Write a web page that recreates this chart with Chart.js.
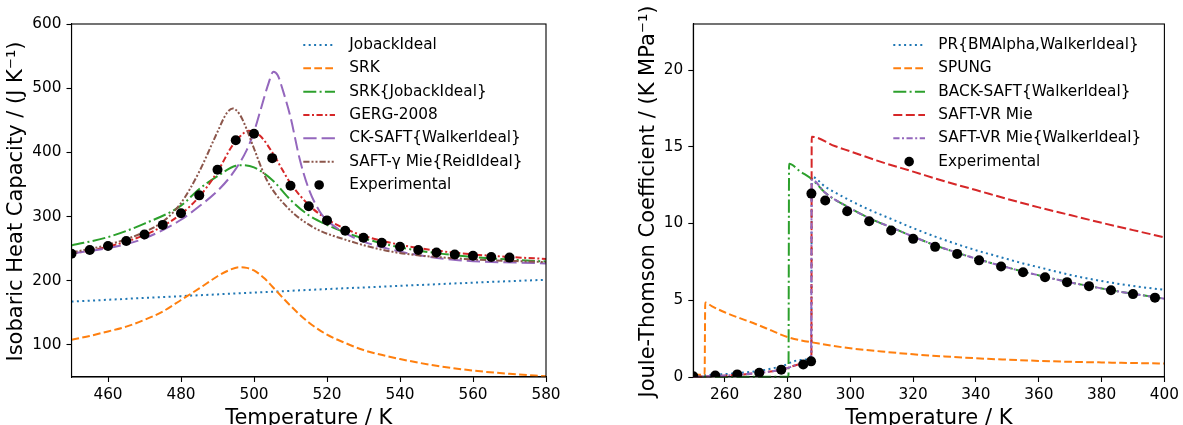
<!DOCTYPE html>
<html><head><meta charset="utf-8">
<script src="https://cdn.jsdelivr.net/npm/chart.js@4.4.0/dist/chart.umd.min.js"></script>
<style>
html,body{margin:0;padding:0;background:#fff;width:1183px;height:425px;overflow:hidden;}
#c1{position:absolute;left:0;top:0;width:600px;height:425px;}
#c2{position:absolute;left:600px;top:0;width:583px;height:425px;}
</style></head><body>
<canvas id="c1" width="600" height="425"></canvas>
<canvas id="c2" width="583" height="425"></canvas>
<script>
// ---------------- LEFT PANEL DATA (Isobaric heat capacity) ----------------
const cpXTicks = [460, 480, 500, 520, 540, 560, 580];
const cpYTicks = [100, 200, 300, 400, 500, 600];

const jobackT = [450, 480, 500, 520, 540, 560, 580];
const jobackV = [167.5, 176, 181.5, 187, 192, 197, 201.5];

const srkT = [450,455,460,465,470,475,480,485,490,493,496,498,500,503,505,510,515,520,525,530,540,550,560,570,580];
const srkV = [108,114,121,128.5,139,152,170,188,207,216,221,220,216,203,191,161,135,116,103,92,78,67.5,60,55,51];

const srkJobackT = [450,460,470,480,485,490,495,497,500,505,510,515,520,525,530,540,550,560,570,580];
const srkJobackV = [255,268,289,317,343,363,379,380,376.5,357,326,302,287,275,266,252,243,237,233,230];

const gergT = [450,455,460,465,470,475,480,485,490,494,496,498.5,500,502,505,510,515,520,525,530,540,550,560,570,580];
const gergV = [242,247,253,261,271,285,304,331,370,410,424,433.5,432,424,400,352,318,296,281,270,256,247,241,237,234];

const ckT = [450,460,465,470,475,480,485,490,494,498,500,502,504,505.3,506.5,508,510,512.5,515,518,520,525,530,538,545,556,580];
const ckV = [242.4,251,257,266,279,295,316,340,366,403.5,432,470,508,525.6,520,495,455,390,343,308,294,274,261,248,240,232,227];

const saftGammaT = [450,460,470,475,480,485,490,492.5,494.2,496.2,498,500,503.5,509,516,525,538,556,580];
const saftGammaV = [244,256,276,292,321,370,432,461,468.5,458,436,406,357,315,284,264,245,234.6,229];

const cpExpT = [450,455,460,465,470,475,480,485,490,495,500,505,510,515,520,525,530,535,540,545,550,555,560,565,570];
const cpExpV = [242,248,254,262,272,287,305,333,373,419,429,391,348,316,294,278,267,259,253,248,244,241,239,237,236];

// ---------------- RIGHT PANEL DATA (Joule-Thomson coefficient) ----------------
const jtXTicks = [260, 280, 300, 320, 340, 360, 380, 400];
const jtYTicks = [0, 5, 10, 15, 20];

const prT = [250,257,264,271,278,284,287.6,287.7,292,299,306,313,320,327,334,341,348,355,362,369,376,383,390,400];
const prV = [0.05,0.15,0.25,0.4,0.7,1.1,1.4,13.05,12.4,11.6,10.9,10.3,9.7,9.15,8.65,8.2,7.8,7.4,7.05,6.7,6.4,6.15,5.93,5.68];

const spungT = [250,253.6,253.8,256,260,265,270,275,280,290,300,310,320,330,340,350,360,370,380,390,400];
const spungV = [0.15,0.15,4.85,4.6,4.22,3.82,3.44,3.02,2.6,2.18,1.87,1.66,1.48,1.34,1.22,1.13,1.05,0.99,0.95,0.91,0.88];

const backT = [250,260,270,280.3,280.5,284,288,292,299,306,313,320,327,334,341,348,355,362,369,376,383,390,397,400];
const backV = [0.02,0.02,0.02,0.02,13.9,13.4,12.85,12.0,11.1,10.35,9.75,9.15,8.58,8.1,7.65,7.25,6.87,6.53,6.2,5.93,5.66,5.42,5.2,5.1];

const vrMieT = [250,257,264,271,278,285,287.6,287.7,295,300,310,320,330,340,350,360,370,380,390,400];
const vrMieV = [0.02,0.06,0.14,0.27,0.47,0.85,1.15,15.65,15.05,14.7,14.0,13.38,12.75,12.18,11.6,11.05,10.55,10.05,9.57,9.1];

const vrMieWT = [250,257,264,271,278,285,287.5,287.7,292,299,306,313,320,327,334,341,348,355,362,369,376,383,390,397,400];
const vrMieWV = [0.02,0.06,0.14,0.27,0.47,0.85,1.2,12.85,12.0,11.1,10.35,9.75,9.15,8.58,8.1,7.65,7.25,6.87,6.53,6.2,5.93,5.66,5.42,5.2,5.1];

const jtExpT = [250,257,264,271,278,285,287.5,287.6,292,299,306,313,320,327,334,341,348,355,362,369,376,383,390,397];
const jtExpV = [0.05,0.1,0.17,0.28,0.48,0.81,1.02,11.95,11.5,10.8,10.15,9.55,9.0,8.48,8.02,7.6,7.2,6.83,6.5,6.18,5.92,5.65,5.4,5.17];

// ---------------- STYLE ----------------
const FONT = "'DejaVu Sans', sans-serif";
const COL = {blue:'#1f77b4', orange:'#ff7f0e', green:'#2ca02c', red:'#d62728', purple:'#9467bd', brown:'#8c564b'};
const DASH = {
  dotted:[2,3.4], dashed:[7.7,3.3], dashdot:[13,3.3,2,3.3], longdash:[13.3,5],
  mdash:[9,3.5], dashdotS:[6.2,2.5,2,2.5], dashdotdot:[6.2,2,2,2,2,2]
};
const TICK_SIZE = 15.3, TITLE_SIZE = 21;

function curve(label, T, V, color, dash) {
  return {label, data: T.map((t,i)=>({x:t, y:V[i]})), borderColor:color, backgroundColor:color,
    borderWidth:2, borderDash:dash, pointRadius:0, pointHoverRadius:0, showLine:true, fill:false,
    cubicInterpolationMode:'monotone', borderCapStyle:'butt', clip:1, _kind:'line'};
}
function marks(label, T, V) {
  return {label, data: T.map((t,i)=>({x:t, y:V[i]})), showLine:false, pointRadius:5, pointHoverRadius:5,
    pointBackgroundColor:'#000', pointBorderColor:'#000', pointBorderWidth:0, borderColor:'#000', backgroundColor:'#000',
    clip:0, _kind:'marker'};
}
function ordered(list){ list.forEach((d,i)=>{ d.order = list.length - i; }); return list; }

function deco(cfg) {
  return {
    id:'deco',
    afterDraw(chart) {
      const ctx = chart.ctx, a = chart.chartArea;
      ctx.save();
      ctx.strokeStyle = '#000'; ctx.lineWidth = 1.1; ctx.setLineDash([]);
      ctx.strokeRect(a.left, a.top, a.right - a.left, a.bottom - a.top);
      ctx.fillStyle = '#000';
      // x title
      ctx.font = TITLE_SIZE + 'px ' + FONT;
      ctx.textAlign = 'center'; ctx.textBaseline = 'alphabetic';
      ctx.fillText(cfg.xTitle, (a.left + a.right) / 2, 423.6);
      // y title
      ctx.save();
      ctx.translate(cfg.yTitleX, (a.top + a.bottom) / 2 + 1);
      ctx.rotate(-Math.PI / 2);
      ctx.textBaseline = 'middle';
      ctx.fillText(cfg.yTitle, 0, 0);
      ctx.restore();
      // legend
      ctx.font = TICK_SIZE + 'px ' + FONT;
      ctx.textAlign = 'left'; ctx.textBaseline = 'middle';
      chart.data.datasets.forEach((d, i) => {
        const y = cfg.legY + i * cfg.legStep;
        if (d._kind === 'line') {
          ctx.save();
          ctx.strokeStyle = d.borderColor; ctx.lineWidth = 2; ctx.setLineDash(d.borderDash || []);
          ctx.beginPath(); ctx.moveTo(cfg.legX0, y); ctx.lineTo(cfg.legX1, y); ctx.stroke();
          ctx.restore();
        } else {
          ctx.beginPath(); ctx.arc((cfg.legX0 + cfg.legX1) / 2, y, 4.8, 0, Math.PI * 2); ctx.fill();
        }
        ctx.fillStyle = '#000';
        ctx.fillText(d.label, cfg.legText, y);
      });
      ctx.restore();
    }
  };
}

function opts(xr, yr, xt, yt, yWidth, padRight) {
  const grid = {drawOnChartArea:false, drawTicks:true, tickLength:5, color:'#000', tickColor:'#000', tickWidth:1.1};
  const ticks = {color:'#000', font:{family:FONT, size:TICK_SIZE}, padding:4, maxRotation:0, autoSkip:false, callback:v=>String(v)};
  return {
    responsive:false, animation:false, devicePixelRatio:1,
    layout:{padding:{top:24, right:padRight, left:0, bottom:0}},
    plugins:{legend:{display:false}, tooltip:{enabled:false}, title:{display:false}},
    events:[],
    scales:{
      x:{type:'linear', min:xr[0], max:xr[1], grid, border:{display:true, color:'#000', width:1.1}, ticks,
        afterBuildTicks:s=>{ s.ticks = xt.map(v=>({value:v})); }, afterFit:s=>{ s.height = 48; }},
      y:{type:'linear', min:yr[0], max:yr[1], grid, border:{display:true, color:'#000', width:1.1}, ticks:{...ticks, padding:5},
        afterBuildTicks:s=>{ s.ticks = yt.map(v=>({value:v})); }, afterFit:s=>{ s.width = yWidth; }}
    }
  };
}

new Chart(document.getElementById('c1'), {
  type:'line',
  data:{datasets: ordered([
    curve('JobackIdeal', jobackT, jobackV, COL.blue, DASH.dotted),
    curve('SRK', srkT, srkV, COL.orange, DASH.dashed),
    curve('SRK{JobackIdeal}', srkJobackT, srkJobackV, COL.green, DASH.dashdot),
    curve('GERG-2008', gergT, gergV, COL.red, DASH.dashdotS),
    curve('CK-SAFT{WalkerIdeal}', ckT, ckV, COL.purple, DASH.longdash),
    curve('SAFT-γ Mie{ReidIdeal}', saftGammaT, saftGammaV, COL.brown, DASH.dashdotdot),
    marks('Experimental', cpExpT, cpExpV)
  ])},
  options: opts([450,580],[50,600], cpXTicks, cpYTicks, 71.5, 54),
  plugins:[deco({xTitle:'Temperature / K', yTitle:'Isobaric Heat Capacity / (J K⁻¹)', yTitleX:16.5,
    legX0:303.3, legX1:335, legText:349.3, legY:45, legStep:23.33})]
});

new Chart(document.getElementById('c2'), {
  type:'line',
  data:{datasets: ordered([
    curve('PR{BMAlpha,WalkerIdeal}', prT, prV, COL.blue, DASH.dotted),
    curve('SPUNG', spungT, spungV, COL.orange, DASH.dashed),
    curve('BACK-SAFT{WalkerIdeal}', backT, backV, COL.green, DASH.dashdot),
    curve('SAFT-VR Mie', vrMieT, vrMieV, COL.red, DASH.mdash),
    curve('SAFT-VR Mie{WalkerIdeal}', vrMieWT, vrMieWV, COL.purple, DASH.dashdotS),
    marks('Experimental', jtExpT, jtExpV)
  ])},
  options: opts([250,400],[0,23], jtXTicks, jtYTicks, 93.3, 15),
  plugins:[deco({xTitle:'Temperature / K', yTitle:'Joule-Thomson Coefficient / (K MPa⁻¹)', yTitleX:48.3,
    legX0:293.3, legX1:325, legText:338.3, legY:45, legStep:23.33})]
});
</script>
</body></html>
